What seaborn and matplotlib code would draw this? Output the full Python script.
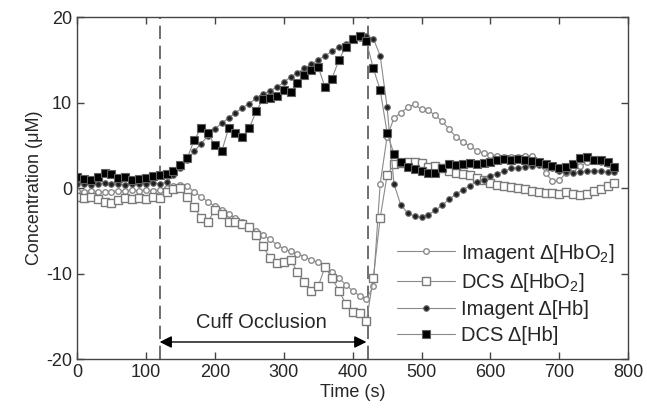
import numpy as np
import pandas as pd
import matplotlib
matplotlib.use("Agg")
import matplotlib.pyplot as plt
import seaborn as sns

# time axis (s), one sample every 10 s
time_s = list(range(0, 790, 10))

imagent_hbo2 = [
    -0.3, -0.4, -0.3, -0.4, -0.5, -0.4, -0.3, -0.3, -0.2, -0.3,
    -0.2, -0.3, -0.2, 0.0, 0.3, 0.4, 0.2, -0.4, -1.0, -1.6,
    -2.1, -2.6, -3.0, -3.5, -4.0, -4.5, -5.0, -5.5, -6.0, -6.6,
    -7.1, -7.4, -7.7, -8.0, -8.4, -8.7, -9.2, -9.8, -10.5, -11.3,
    -12.0, -12.6, -13.0, -11.5, 0.5, 6.0, 8.2, 8.8, 9.5, 9.8,
    9.2, 9.1, 8.5, 7.8, 6.9, 6.0, 5.4, 4.9, 4.4, 4.1,
    3.9, 3.8, 3.7, 3.6, 3.7, 3.8, 3.8, 3.2, 1.8, 0.8,
    0.9, 1.8, 2.4, 2.6, 3.0, 3.2, 3.0, 2.8, 2.6,
]

dcs_hbo2 = [
    -1.0, -1.1, -1.0, -1.3, -1.6, -1.7, -1.4, -1.2, -1.3, -1.1,
    -1.3, -1.0, -1.2, -0.5, -0.1, 0.0, -1.0, -2.2, -3.5, -4.0,
    -2.5, -3.0, -4.0, -4.0, -4.2, -4.5, -5.5, -6.8, -8.2, -8.8,
    -8.6, -8.4, -9.8, -11.0, -12.0, -11.5, -9.2, -10.5, -12.0, -13.5,
    -14.5, -14.6, -15.6, -10.5, -3.5, 1.5, 2.8, 2.9, 3.0, 3.1,
    2.9, 2.5, 2.6, 2.4, 2.0, 1.8, 1.7, 1.5, 1.2, 1.0,
    0.6, 0.4, 0.2, 0.1, 0.0, -0.1, -0.3, -0.5, -0.6, -0.6,
    -0.7, -0.5, -0.7, -0.8, -0.7, -0.3, -0.1, 0.3, 0.6,
]

imagent_hb = [
    0.5, 0.5, 0.4, 0.5, 0.6, 0.5, 0.5, 0.4, 0.5, 0.5,
    0.5, 0.6, 0.5, 0.7, 1.5, 2.4, 3.3, 4.3, 5.2, 6.1,
    6.9, 7.6, 8.2, 8.8, 9.4, 9.9, 10.5, 11.0, 11.4, 11.8,
    12.4, 13.0, 13.5, 14.0, 14.5, 15.0, 15.5, 16.0, 16.5, 16.9,
    17.3, 17.6, 17.8, 17.5, 15.5, 9.5, 0.5, -2.0, -2.9, -3.3,
    -3.4, -3.1, -2.6, -2.0, -1.3, -0.7, -0.2, 0.3, 0.7, 1.0,
    1.4, 1.7, 2.0, 2.3, 2.4, 2.5, 2.6, 2.7, 2.6, 2.3,
    2.0, 1.9, 1.8, 1.9, 2.0, 2.0, 2.0, 1.9, 1.9,
]

dcs_hb = [
    1.3, 1.1, 0.9, 1.3, 1.8, 1.6, 1.2, 1.3, 1.0, 1.1,
    1.2, 1.4, 1.5, 1.6, 2.0, 2.7, 3.5, 5.6, 7.0, 6.5,
    5.0, 4.3, 7.0, 6.5, 6.0, 7.0, 9.0, 10.4, 10.5, 10.8,
    11.5, 11.3, 12.3, 13.2, 13.8, 14.2, 11.8, 12.8, 15.0, 16.5,
    17.4, 17.8, 17.2, 14.0, 11.5, 6.5, 4.0, 3.0, 2.5, 2.2,
    2.0, 1.8, 1.8, 2.3, 2.8, 2.7, 2.8, 2.9, 2.8, 2.9,
    3.1, 3.3, 3.4, 3.3, 3.4, 3.3, 3.2, 3.0, 2.8, 2.6,
    2.4, 2.5, 2.8, 3.5, 3.6, 3.3, 3.3, 3.0, 2.5,
]

cuff_start, cuff_end = 120, 423

sns.set_style("ticks")
plt.rcParams["font.family"] = ["Liberation Sans", "DejaVu Sans"]
plt.rcParams["mathtext.fontset"] = "custom"
plt.rcParams["mathtext.rm"] = "Liberation Sans"
plt.rcParams["axes.unicode_minus"] = False

df = pd.DataFrame({
    "time": time_s,
    "imagent_hbo2": imagent_hbo2,
    "dcs_hbo2": dcs_hbo2,
    "imagent_hb": imagent_hb,
    "dcs_hb": dcs_hb,
})

fig = plt.figure(figsize=(6.47, 4.19), dpi=100)
ax = fig.add_axes([0.119, 0.143, 0.852, 0.816])

line_kw = dict(color="#8a8a8a", linewidth=0.8, estimator=None)
sns.lineplot(data=df, x="time", y="imagent_hbo2", ax=ax, marker="o",
             markersize=4, markerfacecolor="white", markeredgecolor="#8a8a8a",
             markeredgewidth=1.0, label="Imagent Δ[HbO$_2$]", **line_kw)
sns.lineplot(data=df, x="time", y="dcs_hbo2", ax=ax, marker="s",
             markersize=5.5, markerfacecolor="white", markeredgecolor="#7a7a7a",
             markeredgewidth=1.0, label="DCS Δ[HbO$_2$]", **line_kw)
sns.lineplot(data=df, x="time", y="imagent_hb", ax=ax, marker="o",
             markersize=4, markerfacecolor="#202020", markeredgecolor="#6a6a6a",
             markeredgewidth=0.8, label="Imagent Δ[Hb]", **line_kw)
sns.lineplot(data=df, x="time", y="dcs_hb", ax=ax, marker="s",
             markersize=5.5, markerfacecolor="black", markeredgecolor="#606060",
             markeredgewidth=0.8, label="DCS Δ[Hb]", **line_kw)

for xv in (cuff_start, cuff_end):
    ax.axvline(xv, color="#555555", linestyle=(0, (8, 4)), linewidth=1.2, zorder=1)

ax.annotate("", xy=(cuff_start, -18), xytext=(cuff_end - 3, -18),
            arrowprops=dict(arrowstyle="<|-|>", color="black", lw=1.0,
                            mutation_scale=18, shrinkA=0, shrinkB=0))
ax.text(268, -15.7, "Cuff Occlusion", ha="center", va="center", fontsize=14.5)

ax.set_xlim(0, 800)
ax.set_ylim(-20, 20)
ax.set_xticks(range(0, 801, 100))
ax.set_yticks([-20, -10, 0, 10, 20])
ax.tick_params(direction="in", length=5, top=True, right=True, labelsize=13,
               color="#444444", width=1)
for sp in ax.spines.values():
    sp.set_color("#444444")
    sp.set_linewidth(1.0)
ax.set_xlabel("Time (s)", fontsize=13, labelpad=2)
ax.set_ylabel("Concentration (μM)", fontsize=13, labelpad=2)

leg = ax.legend(loc="upper left", bbox_to_anchor=(0.555, 0.385), frameon=False,
                fontsize=14.5, handlelength=2.9, handletextpad=0.3,
                labelspacing=0.32, borderpad=0.2)
for h in leg.get_lines():
    h.set_color("#8a8a8a")

fig.savefig("out.png", dpi=100)
